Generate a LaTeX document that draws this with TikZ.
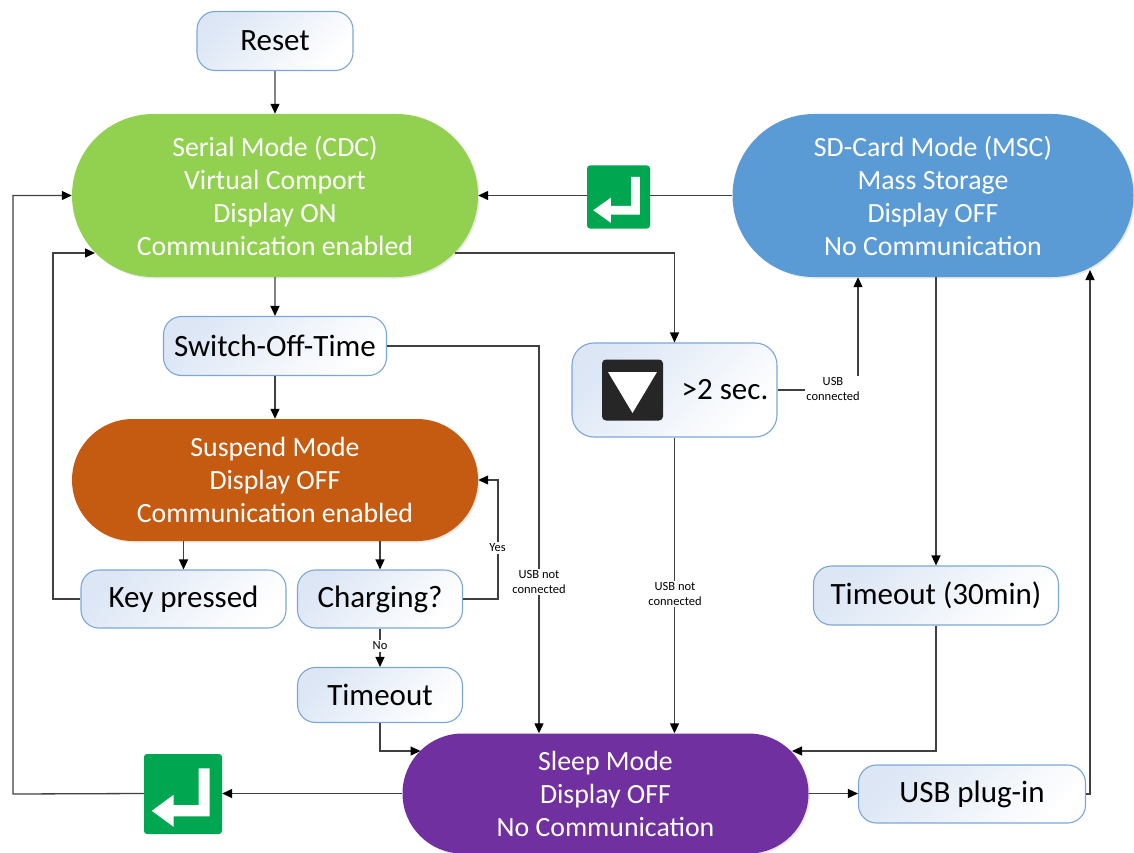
\documentclass[tikz,border=0pt]{standalone}
\usepackage{fontspec}
\setmainfont{Carlito}
\usetikzlibrary{shapes.misc,arrows.meta,shadows}
\definecolor{cgreen}{HTML}{92D050}
\definecolor{corange}{HTML}{C55A11}
\definecolor{cblue}{HTML}{5B9BD5}
\definecolor{cpurple}{HTML}{7030A0}
\definecolor{icongreen}{HTML}{00A650}
\definecolor{iconblack}{HTML}{262626}
\definecolor{boxborder}{HTML}{7BA7D7}
\definecolor{boxtop}{HTML}{DCE6F5}
\definecolor{linec}{HTML}{404040}
\begin{document}
\begin{tikzpicture}[x=1pt,y=-1pt,
  mode/.style={rounded rectangle, fill=#1, text=white, align=center, inner sep=0pt,
    font=\fontsize{27.8}{33}\selectfont,
    drop shadow={opacity=0.18,shadow xshift=1.5pt,shadow yshift=-1.5pt}},
  box/.style={rectangle, rounded corners=18pt, draw=boxborder, line width=1.1pt,
    top color=boxtop, middle color=white, bottom color=white, shading angle=45,
    minimum height=58pt, font=\fontsize{31}{36}\selectfont, text=black, inner sep=0pt},
  ln/.style={draw=linec, line width=1.3pt},
  arr/.style={ln, -{Triangle[length=10pt,width=9pt,color=black]}},
  lbl/.style={font=\fontsize{12.5}{15}\selectfont, fill=white, align=center, inner sep=1.5pt},
  iconbox/.style={rectangle, fill=#1, rounded corners=3pt, inner sep=0pt}
]
\useasboundingbox (0,0) rectangle (1134,853);

% nodes
\node[box, minimum width=156pt, minimum height=59pt] (reset) at (275,41) {Reset};
\node[mode=cgreen, minimum width=406pt, minimum height=163pt] (serial) at (275,195.5)
  {Serial Mode (CDC)\\Virtual Comport\\Display ON\\Communication enabled};
\node[mode=cblue, minimum width=401pt, minimum height=163pt] (sd) at (933,195.5)
  {SD-Card Mode (MSC)\\Mass Storage\\Display OFF\\No Communication};
\node[box, minimum width=223pt, minimum height=59pt] (sot) at (275,346) {Switch-Off-Time};
\node[mode=corange, minimum width=406pt, minimum height=122pt] (susp) at (275,480)
  {Suspend Mode\\Display OFF\\Communication enabled};
\node[box, minimum width=205pt] (key) at (183.5,599) {Key pressed};
\node[box, minimum width=165pt] (chg) at (380,599) {Charging?};
\node[box, minimum width=165pt, minimum height=55pt] (tmo) at (380,695) {Timeout};
\node[box, minimum width=205pt, minimum height=94pt, rounded corners=22pt] (lp) at (674.5,390) {};
\node[iconbox=iconblack, minimum size=61pt, rounded corners=4pt] (btn) at (632.5,390) {};
\node[font=\fontsize{31}{36}\selectfont, inner sep=0pt] (lptxt) at (725,390) {>2 sec.};
\node[box, minimum width=245pt, minimum height=59pt] (t30) at (936,595.5) {Timeout (30min)};
\node[mode=cpurple, minimum width=406pt, minimum height=120pt] (sleep) at (605.5,793.5)
  {Sleep Mode\\Display OFF\\No Communication};
\node[box, minimum width=227pt] (usb) at (972,794) {USB plug-in};
\node[iconbox=icongreen, minimum size=63pt] (ent1) at (618.5,197) {};
\node[iconbox=icongreen, minimum width=78pt, minimum height=80pt] (ent2) at (183,794) {};

% icon glyphs
\fill[white] ([shift={(-24.5,-18)}]btn.center) -- ([shift={(24.5,-18)}]btn.center)
  -- ([shift={(0,23)}]btn.center) -- cycle;
\begin{scope}[shift={(ent1.center)}, x=63pt, y=-63pt]
  \fill[white] (0.20,-0.32) -- (0.34,-0.32) -- (0.34,0.28) -- (-0.12,0.28) -- (-0.12,0.41)
    -- (-0.40,0.21) -- (-0.12,0.01) -- (-0.12,0.14) -- (0.20,0.14) -- cycle;
\end{scope}
\begin{scope}[shift={(ent2.center)}, x=78pt, y=-80pt]
  \fill[white] (0.20,-0.32) -- (0.34,-0.32) -- (0.34,0.28) -- (-0.12,0.28) -- (-0.12,0.41)
    -- (-0.40,0.21) -- (-0.12,0.01) -- (-0.12,0.14) -- (0.20,0.14) -- cycle;
\end{scope}

% free-end coordinates on curved borders
\coordinate (g2) at (95,253);
\coordinate (g3) at (455,253);
\coordinate (slA) at (420.5,751);
\coordinate (slB) at (792,751);
\coordinate (sdB) at (1090,270);

% connectors
\draw[arr] (reset) -- (serial);
\draw[arr] (serial) -- (sot);
\draw[arr] (sot) -- (susp);
\draw[arr] (key.north |- susp.south) -- (key.north);
\draw[arr] (chg.north |- susp.south) -- (chg.north);
\draw[arr] (chg.east) -- ++(35,0) |- (susp.east);
\draw[arr] (chg.south) -- (tmo.north);
\draw[arr] (tmo.south) |- (slA);
\draw[arr] (key.west) -- ++(-27.5,0) |- (g2);
\draw[arr] (g3) -| (lp.north);
\draw[arr] (sot.east) -| ([xshift=-66.5pt]sleep.north);
\draw[arr] (lp.south) -- ([xshift=69pt]sleep.north);
\draw[arr] (lp.east) -| ([xshift=-75pt]sd.south);
\draw[ln] (sd.west) -- (sd.west -| ent1.east);
\draw[arr] (serial.east -| ent1.west) -- (serial.east);
\draw[arr] (t30.north |- sd.south) -- (t30.north);
\draw[arr] (t30.south) |- (slB);
\draw[arr] (sleep.east) -- (sleep.east -| usb.west);
\draw[arr] (usb.east) -| (sdB);
\draw[arr] (sleep.west) -- (sleep.west -| ent2.east);
\draw[arr] (ent2.west |- sleep.west) -- (13,794) |- (serial.west);

% labels
\node[lbl] (lyes) at (497.5,548) {Yes};
\node[lbl] (lno) at (380,646) {No};
\node[lbl] (lusb1) at (539,582) {USB not\\connected};
\node[lbl] (lusb2) at (675,594) {USB not\\connected};
\node[lbl] (lusb3) at (833,389) {USB\\connected};
\end{tikzpicture}
\end{document}
